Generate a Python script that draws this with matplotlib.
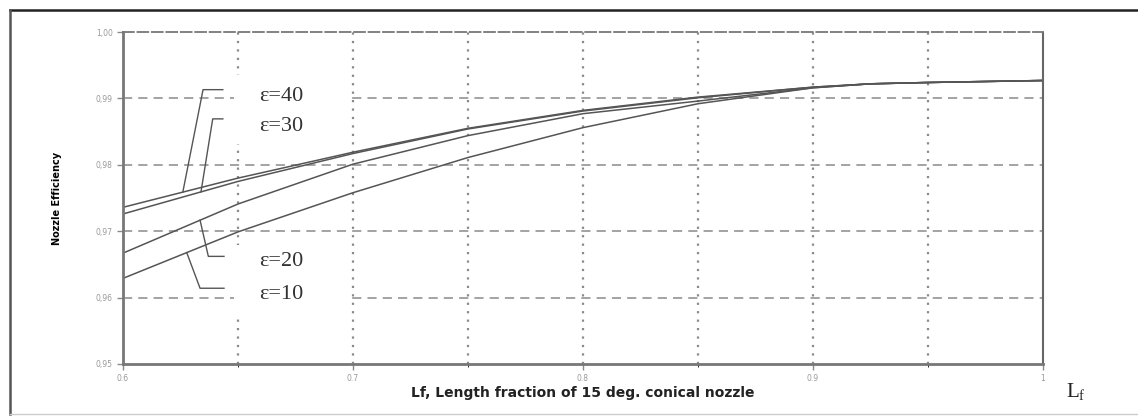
import numpy as np
import matplotlib.pyplot as plt
from matplotlib.lines import Line2D
from matplotlib.patches import Rectangle

# Fração de comprimento e eficiência do bocal para cada razão de áreas
lf = [0.60, 0.65, 0.70, 0.75, 0.80, 0.85, 0.90, 0.925, 0.95, 1.00]
eta_40 = [0.9736, 0.9780, 0.9819, 0.9855, 0.9882, 0.9902, 0.9917, 0.9922, 0.9924, 0.9927]
eta_30 = [0.9726, 0.9775, 0.9817, 0.9854, 0.9881, 0.9901, 0.9917, 0.9922, 0.9924, 0.9927]
eta_20 = [0.9667, 0.9741, 0.9801, 0.9844, 0.9877, 0.9896, 0.9916, 0.9922, 0.9924, 0.9927]
eta_10 = [0.9629, 0.9699, 0.9758, 0.9811, 0.9856, 0.9892, 0.9916, 0.9922, 0.9924, 0.9927]

rotulos = ["ε=40", "ε=30", "ε=20", "ε=10"]
x_ticks = [0.6, 0.7, 0.8, 0.9, 1.0]
x_ticklabels = ["0.6", "0.7", "0.8", "0.9", "1"]
y_ticks = [0.95, 0.96, 0.97, 0.98, 0.99, 1.00]
y_ticklabels = ["0,95", "0,96", "0,97", "0,98", "0,99", "1,00"]

cor_linha = '#555555'
cor_grade = '#8a8a8a'

fig = plt.figure(figsize=(11.38, 4.16), dpi=100)
ax = fig.add_axes([0.1081, 0.125, 0.8084, 0.798])

for eta in [eta_40, eta_30, eta_20, eta_10]:
    ax.plot(lf, eta, color=cor_linha, lw=1.1, zorder=2)

ax.set_xlim(0.6, 1.0)
ax.set_ylim(0.95, 1.0)
ax.set_xticks(x_ticks)
ax.set_xticklabels(x_ticklabels)
ax.set_yticks(y_ticks)
ax.set_yticklabels(y_ticklabels)
ax.set_xticks([0.65, 0.75, 0.85, 0.95], minor=True)
ax.tick_params(axis='both', labelsize=5.5, labelcolor='#999999', color=cor_grade,
               length=4, width=1)
ax.tick_params(axis='x', which='minor', length=2)

# grade: tracejada na horizontal, pontilhada na vertical
ax.set_axisbelow(True)
for y in y_ticks[1:-1]:
    ax.axhline(y, color=cor_grade, lw=1.1, ls=(0, (6, 4)), zorder=0.5)
for x in [0.65, 0.7, 0.75, 0.8, 0.85, 0.9, 0.95]:
    ax.axvline(x, color=cor_grade, lw=1.6, ls=(0, (1, 2.8)), zorder=0.5)

for lado in ['left', 'bottom']:
    ax.spines[lado].set_color('#777777')
    ax.spines[lado].set_linewidth(2)
ax.spines['top'].set_color('#777777')
ax.spines['top'].set_linestyle((0, (6, 2)))
ax.spines['top'].set_linewidth(1.3)
ax.spines['right'].set_color('#666666')
ax.spines['right'].set_linestyle((0, (3, 1)))
ax.spines['right'].set_linewidth(1.5)

ax.set_ylabel('Nozzle Efficiency', fontsize=7, fontweight='bold', labelpad=24)
ax.set_xlabel('Lf, Length fraction of 15 deg. conical nozzle', fontsize=10,
              fontweight='bold', color='#222222', labelpad=2)

# fundo branco atrás dos rótulos, interrompendo a grade
for y_base in [0.98318, 0.95758]:
    ax.add_patch(Rectangle((0.6483, y_base), 0.0502, 0.0103, facecolor='white',
                           edgecolor='none', zorder=1))

# rótulos das curvas com linhas de chamada
fonte_rot = dict(family='Liberation Serif', fontsize=16, color='#333333')
chamadas = [
    (eta_40, 0.6260, (0.6348, 0.99132), 0.6434, (0.6591, 0.9903)),
    (eta_30, 0.6339, (0.6390, 0.98692), 0.6434, (0.6591, 0.98576)),
    (eta_20, 0.6335, (0.6371, 0.96621), 0.6439, (0.6591, 0.96545)),
    (eta_10, 0.6277, (0.6335, 0.96141), 0.6439, (0.6591, 0.96045)),
]
for rot, (eta, x0, cotovelo, x1, pos) in zip(rotulos, chamadas):
    y0 = np.interp(x0, lf, eta)
    ax.plot([x0, cotovelo[0], x1], [y0, cotovelo[1], cotovelo[1]],
            color=cor_linha, lw=1.0, zorder=2)
    ax.text(pos[0], pos[1], rot, ha='left', va='center', zorder=3, **fonte_rot)

fig.text(0.937, 0.058, r'L$_\mathregular{f}$', family='Liberation Serif',
         fontsize=15, color='#222222', ha='left', va='center')

# moldura externa
fig.add_artist(Line2D([0.0088, 1.0], [0.976, 0.976], color='#222222', lw=1.8))
fig.add_artist(Line2D([0.0088, 0.0088], [0.976, 0.005], color='#555555', lw=1.8))
fig.add_artist(Line2D([0.0088, 1.0], [0.005, 0.005], color='#cccccc', lw=1.0))

plt.savefig('out.png', dpi=100)
